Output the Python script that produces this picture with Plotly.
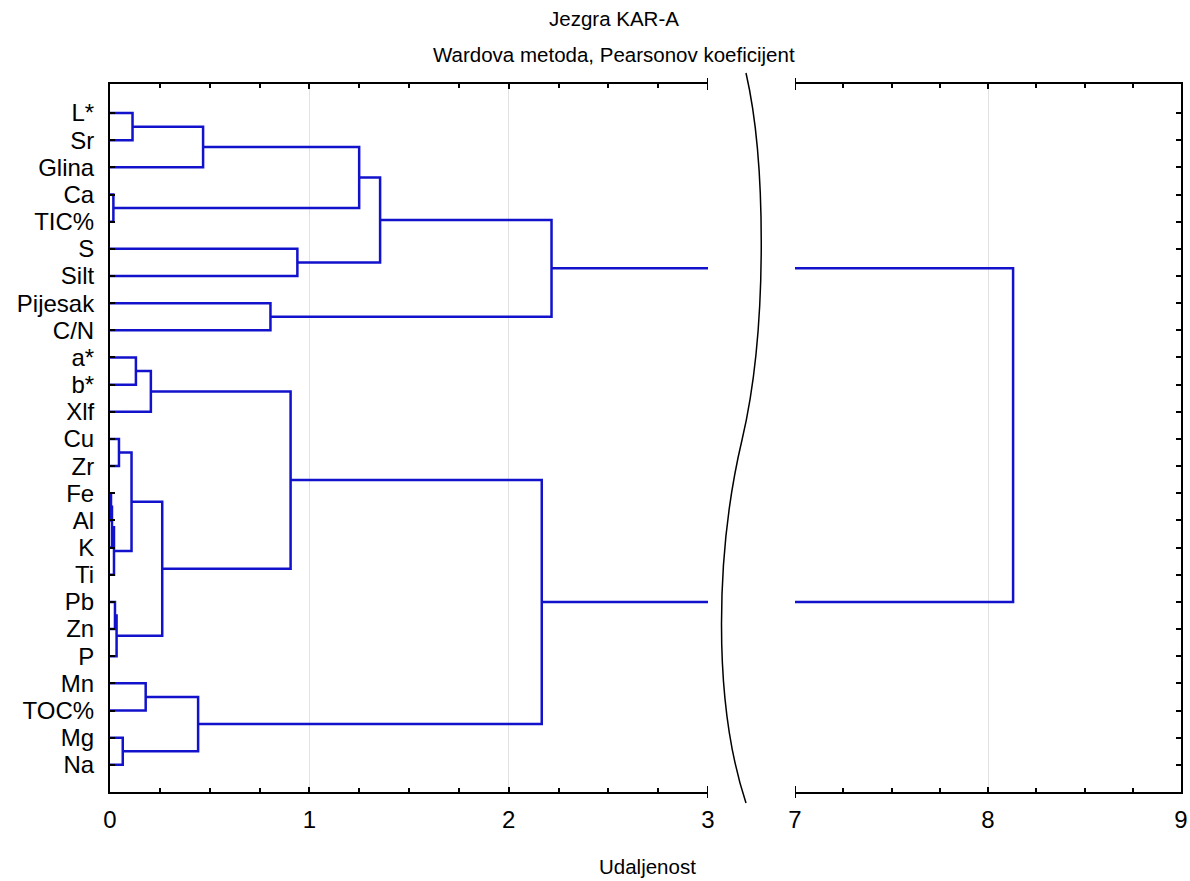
import plotly.graph_objects as go

# ---------------- data ----------------
labels = ["L*", "Sr", "Glina", "Ca", "TIC%", "S", "Silt", "Pijesak", "C/N",
          "a*", "b*", "Xlf", "Cu", "Zr", "Fe", "Al", "K", "Ti", "Pb", "Zn",
          "P", "Mn", "TOC%", "Mg", "Na"]

# linkage: child A, child B (leaf index 0..24 or 25+k for k-th merge), distance
merge_a = [14, 25, 26, 3, 18, 29, 12, 23, 31, 0, 9, 21, 35, 33, 36, 34, 7, 37, 5, 40, 44, 42, 45, 47]
merge_b = [15, 16, 17, 4, 19, 20, 13, 24, 27, 1, 10, 22, 11, 30, 32, 2, 8, 38, 6, 28, 43, 39, 41, 46]
merge_h = [0.005, 0.010, 0.020, 0.017, 0.025, 0.033, 0.045, 0.064, 0.108, 0.113,
           0.130, 0.179, 0.205, 0.262, 0.442, 0.467, 0.805, 0.906, 0.940, 1.250,
           1.355, 2.166, 2.215, 8.130]

x_ticks_left = [0, 1, 2, 3]
x_ticks_right = [7, 8, 9]

# ---------------- build dendrogram segments ----------------
n = len(labels)
pos = {i: i + 1 for i in range(n)}
hgt = {i: 0.0 for i in range(n)}
xs, ys = [], []
for k, (a, b, h) in enumerate(zip(merge_a, merge_b, merge_h)):
    ya, yb = pos[a], pos[b]
    xs += [hgt[a], h, h, hgt[b], None]
    ys += [ya, ya, yb, yb, None]
    pos[n + k] = (ya + yb) / 2
    hgt[n + k] = h

W, H = 1190, 881
ML, MR, MT, MB = 110, 9, 84, 89
PW = W - ML - MR
PH = H - MT - MB


def px(x):
    return (x - ML) / PW


def py(y):
    return (H - MB - y) / PH


line_col = "#1212cc"
fig = go.Figure()
for xa, ya in (("x", "y"), ("x2", "y2")):
    fig.add_trace(go.Scatter(x=xs, y=ys, mode="lines", xaxis=xa, yaxis=ya,
                             line=dict(color=line_col, width=2.5),
                             hoverinfo="skip", showlegend=False))

font = "Liberation Sans, Arial, sans-serif"
ax_common = dict(showline=True, linecolor="black", linewidth=2,
                 ticks="inside", ticklen=5, tickwidth=2, tickcolor="black",
                 showgrid=True, gridcolor="#e2e2e2", gridwidth=1,
                 zeroline=False, mirror="ticks", automargin=False,
                 ticklabelstandoff=5,
                 tickfont=dict(family=font, size=24, color="black"),
                 minor=dict(dtick=0.25, ticks="inside", ticklen=4,
                            tickwidth=2, tickcolor="black", showgrid=False))

yr = [26.0, -0.07]
fig.update_layout(
    width=W, height=H,
    margin=dict(l=ML, r=MR, t=MT, b=MB, autoexpand=False),
    paper_bgcolor="white", plot_bgcolor="white",
    xaxis=dict(domain=[0, px(708)], range=[0, 3], tickvals=x_ticks_left,
               anchor="y", **ax_common),
    xaxis2=dict(domain=[px(795), 1], range=[7, 9], tickvals=x_ticks_right,
                anchor="y2", **ax_common),
    yaxis=dict(domain=[0, 1], range=yr, anchor="x", showline=True,
               linecolor="black", linewidth=2, mirror=False, automargin=False,
               ticks="inside", ticklen=5, tickwidth=2, tickcolor="black",
               tickvals=list(range(1, n + 1)), ticktext=labels,
               showgrid=False, zeroline=False, ticklabelstandoff=9,
               tickfont=dict(family=font, size=24, color="black")),
    yaxis2=dict(domain=[0, 1], range=yr, anchor="x2", side="right",
                showline=True, linecolor="black", linewidth=2, mirror=False,
                automargin=False,
                ticks="inside", ticklen=5, tickwidth=2, tickcolor="black",
                tickvals=list(range(1, n + 1)), showticklabels=False,
                showgrid=False, zeroline=False),
)

# axis-break end caps
shapes = []
for xref, xv in (("x", 3), ("x2", 7)):
    for yv in (0, 1):
        shapes.append(dict(type="line", xref=xref, yref="paper",
                           ysizemode="pixel", yanchor=yv,
                           x0=xv, x1=xv, y0=-6, y1=6,
                           line=dict(color="black", width=2)))

# break curve
pts = [(746, 73), (766, 160), (768, 330), (742, 440),
       (716, 550), (712, 700), (746, 803)]
p = [(px(a), py(b)) for a, b in pts]
path = (f"M {p[0][0]},{p[0][1]} C {p[1][0]},{p[1][1]} {p[2][0]},{p[2][1]} {p[3][0]},{p[3][1]} "
        f"C {p[4][0]},{p[4][1]} {p[5][0]},{p[5][1]} {p[6][0]},{p[6][1]}")
shapes.append(dict(type="path", xref="paper", yref="paper", path=path,
                   line=dict(color="black", width=1.5)))
fig.update_layout(shapes=shapes)

title_font = dict(family=font, size=20.5, color="black")
fig.add_annotation(text="Jezgra KAR-A", xref="paper", yref="paper",
                   x=px(614), y=py(18), showarrow=False, font=title_font,
                   xanchor="center", yanchor="middle")
fig.add_annotation(text="Wardova metoda, Pearsonov koeficijent", xref="paper",
                   yref="paper", x=px(614), y=py(55), showarrow=False,
                   font=title_font, xanchor="center", yanchor="middle")
fig.add_annotation(text="Udaljenost", xref="paper", yref="paper",
                   x=px(647), y=py(866), showarrow=False, font=title_font,
                   xanchor="center", yanchor="middle")

fig.write_html("out.html", config={"displayModeBar": False},
               post_script="document.body.style.margin='0px';document.body.style.overflow='hidden';")
